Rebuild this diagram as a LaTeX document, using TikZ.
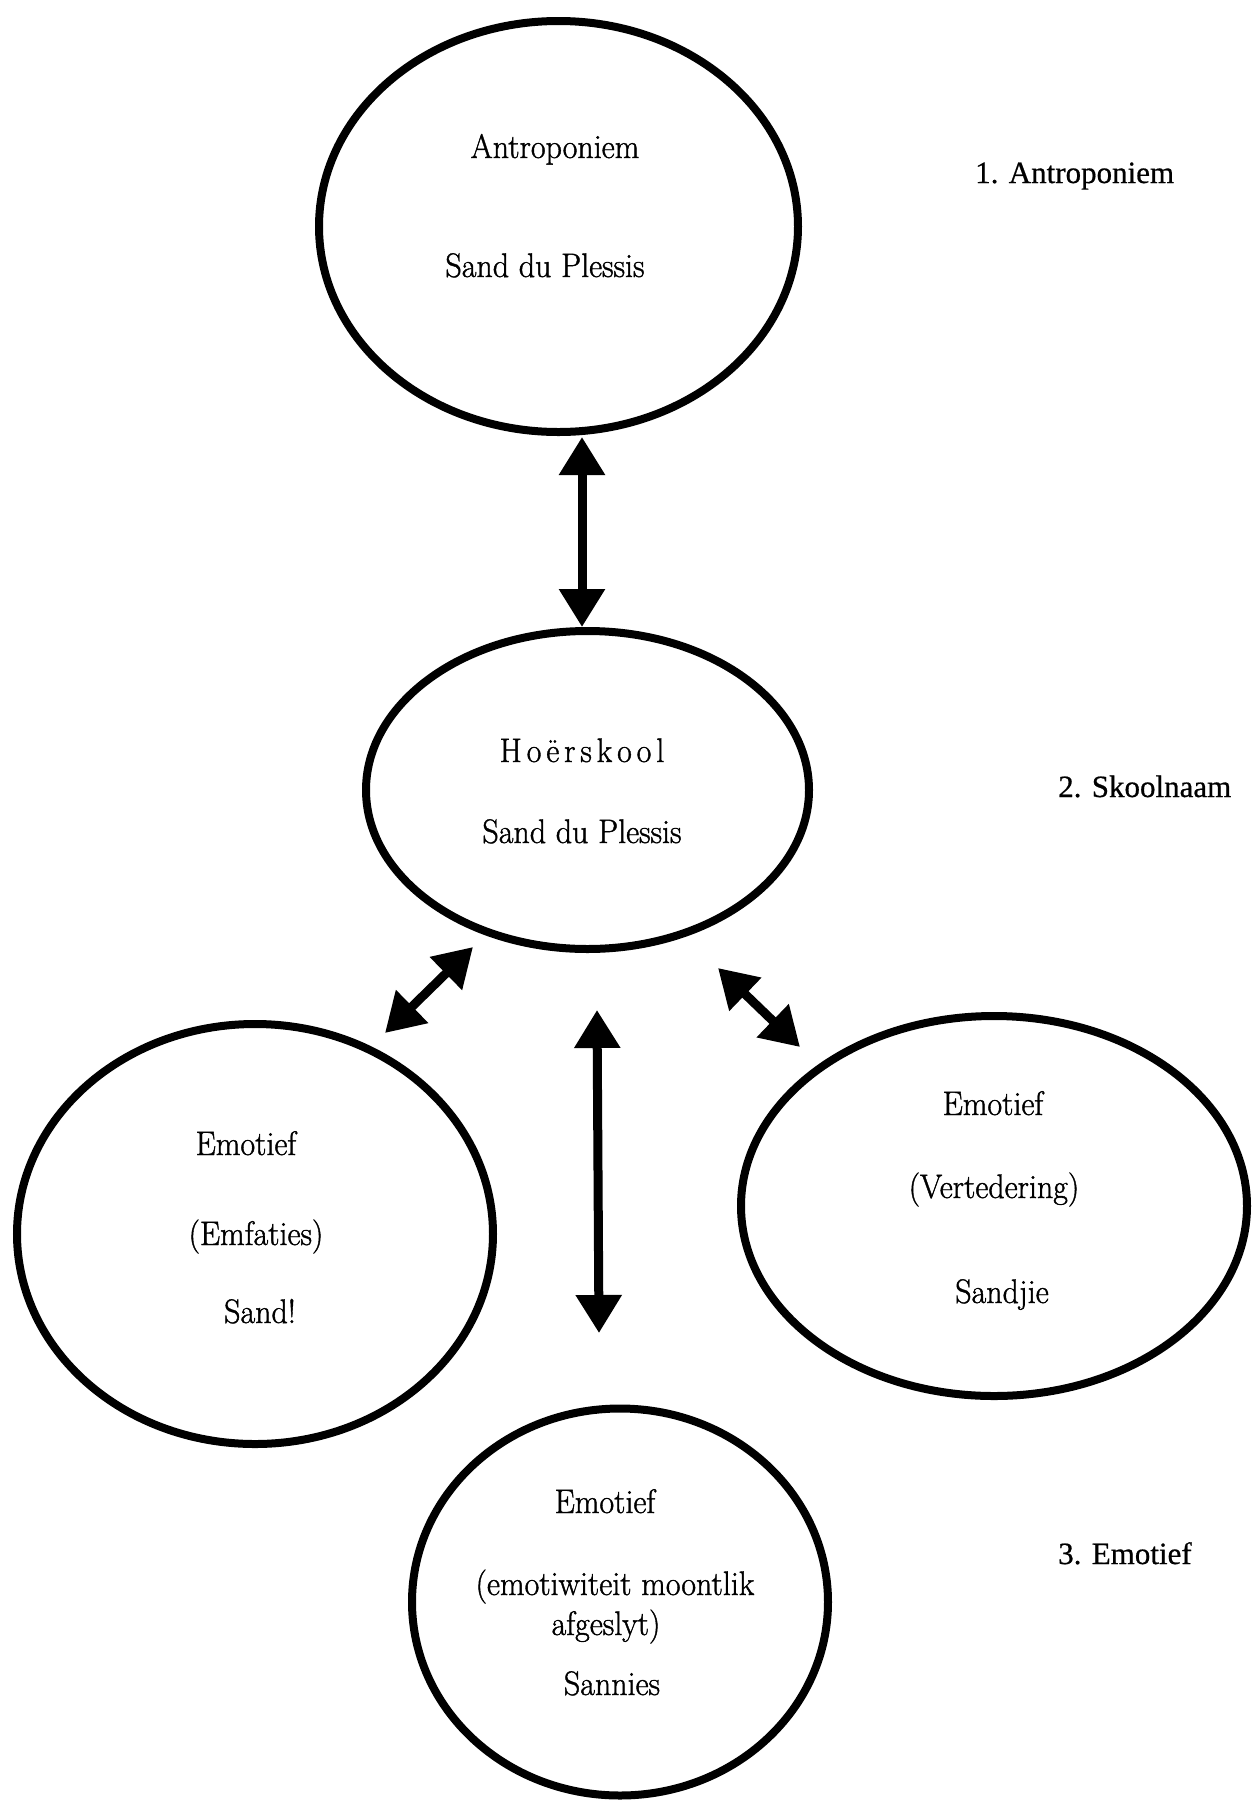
\documentclass[tikz,border=0pt]{standalone}
\usepackage{fontspec}
\newfontfamily\lblfont{Liberation Serif}[FakeBold=0.6]
\newfontfamily\bubfont{Latin Modern Roman}[FakeBold=1.2]
\usetikzlibrary{arrows.meta,shapes.geometric}
\newcommand\cnd[1]{\scalebox{0.94}[1]{#1}}
\newcommand\lsp{\kern5.2pt}
\begin{document}
\begin{tikzpicture}[x=1pt,y=1pt,
  bubble/.style={draw,ellipse,line width=8pt,inner sep=0pt},
  txt/.style={anchor=base,inner sep=0pt,font=\bubfont\fontsize{34}{40}\selectfont},
  lbl/.style={anchor=base west,inner sep=0pt,font=\lblfont\fontsize{31}{36}\selectfont},
  link/.style={line width=9pt,{Triangle[length=38pt,width=44pt]}-{Triangle[length=38pt,width=44pt]}}]
\useasboundingbox (0,0) rectangle (1252,-1802);
% ellipses
\node[bubble,minimum width=479pt,minimum height=411pt] (top) at (558.5,-226.5) {};
\node[bubble,minimum width=443pt,minimum height=318pt] (school) at (587.5,-790) {};
\node[bubble,minimum width=476pt,minimum height=420pt] (left) at (255,-1234) {};
\node[bubble,minimum width=506pt,minimum height=380pt] (right) at (994,-1206) {};
\node[bubble,minimum width=416pt,minimum height=387pt] (bottom) at (620,-1602) {};
% texts
\node[txt] (t1) at (555,-158) {\cnd{Antroponiem}};
\node[txt] (t2) at (545,-277) {\cnd{Sand du Plessis}};
\node[txt] (s1) at (582,-762) {\cnd{H\lsp o\lsp ë\lsp r\lsp s\lsp k\lsp o\lsp o\lsp l}};
\node[txt] (s2) at (582,-843) {\cnd{Sand du Plessis}};
\node[txt] (l1) at (246,-1155) {\cnd{Emotief}};
\node[txt] (l2) at (256,-1245) {\cnd{(Emfaties)}};
\node[txt] (l3) at (260,-1323) {\cnd{Sand!}};
\node[txt] (r1) at (993,-1115) {\cnd{Emotief}};
\node[txt] (r2) at (994,-1198) {\cnd{(Vertedering)}};
\node[txt] (r3) at (1002,-1303) {\cnd{Sandjie}};
\node[txt] (b1) at (605,-1513) {\cnd{Emotief}};
\node[txt] (b2) at (615,-1595) {\cnd{(emotiwiteit moontlik}};
\node[txt] (b3) at (606,-1635) {\cnd{afgeslyt)}};
\node[txt] (b4) at (612,-1695) {\cnd{Sannies}};
% side labels
\node[lbl] (n1) at (975,-183) {1. Antroponiem};
\node[lbl] (n2) at (1058,-797) {2. Skoolnaam};
\node[lbl] (n3) at (1058,-1564) {3. Emotief};
% arrow ends
\coordinate (a1) at (582,-437);
\coordinate (a2) at (582,-627);
\coordinate (c1) at (473,-947);
\coordinate (c2) at (385,-1033);
\coordinate (m1) at (597,-1010);
\coordinate (m2) at (599,-1333);
\coordinate (d1) at (718,-968);
\coordinate (d2) at (800,-1047);
\draw[link] (a1) -- (a2);
\draw[link] (c1) -- (c2);
\draw[link] (m1) -- (m2);
\draw[link] (d1) -- (d2);
\end{tikzpicture}
\end{document}
